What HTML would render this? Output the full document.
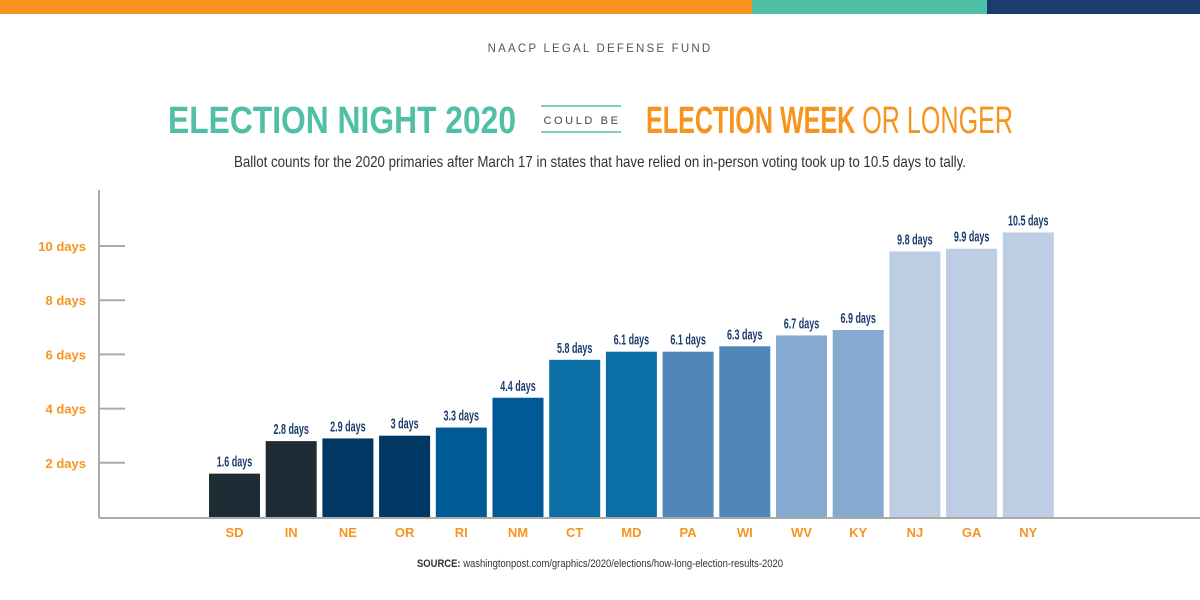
<!DOCTYPE html>
<html><head><meta charset="utf-8"><style>
html,body{margin:0;padding:0;background:#fff;width:1200px;height:600px;overflow:hidden}
svg{display:block}
text{font-family:"Liberation Sans Narrow","Liberation Sans",sans-serif}
</style></head><body>
<svg id="chart" width="1200" height="600">
<rect x="0" y="0" width="752" height="14" fill="#f7941d"/>
<rect x="752" y="0" width="235" height="14" fill="#4fbfa5"/>
<rect x="987" y="0" width="213" height="14" fill="#1b3d6e"/>
<text x="600" y="52" text-anchor="middle" font-size="11.5" letter-spacing="2.2" fill="#555">NAACP LEGAL DEFENSE FUND</text>
<text x="168" y="133" font-size="38" font-weight="bold" fill="#4fbfa5" textLength="348" lengthAdjust="spacingAndGlyphs">ELECTION NIGHT 2020</text>
<line x1="541" y1="106" x2="621" y2="106" stroke="#4fbfa5" stroke-width="1.5"/>
<line x1="541" y1="132" x2="621" y2="132" stroke="#4fbfa5" stroke-width="1.5"/>
<text x="582" y="124" text-anchor="middle" font-size="11" letter-spacing="2.6" fill="#444">COULD BE</text>
<text x="646" y="133" font-size="38" fill="#f7941d" textLength="367" lengthAdjust="spacingAndGlyphs"><tspan font-weight="bold">ELECTION WEEK</tspan> OR LONGER</text>
<text x="600" y="167" text-anchor="middle" font-size="16" fill="#333" textLength="732" lengthAdjust="spacingAndGlyphs">Ballot counts for the 2020 primaries after March 17 in states that have relied on in-person voting took up to 10.5 days to tally.</text>
<line x1="99" y1="190" x2="99" y2="518" stroke="#aaa" stroke-width="2"/>
<line x1="99" y1="518" x2="1200" y2="518" stroke="#aaa" stroke-width="2"/>
<g id="ticks"></g><g id="bars"></g>
<text x="417" y="567" font-size="11" fill="#333" textLength="366" lengthAdjust="spacingAndGlyphs"><tspan font-weight="bold">SOURCE:</tspan> washingtonpost.com/graphics/2020/elections/how-long-election-results-2020</text>
</svg>
<script>
const categories=["SD","IN","NE","OR","RI","NM","CT","MD","PA","WI","WV","KY","NJ","GA","NY"];
const values=[1.6,2.8,2.9,3,3.3,4.4,5.8,6.1,6.1,6.3,6.7,6.9,9.8,9.9,10.5];
const valueLabels=["1.6 days","2.8 days","2.9 days","3 days","3.3 days","4.4 days","5.8 days","6.1 days","6.1 days","6.3 days","6.7 days","6.9 days","9.8 days","9.9 days","10.5 days"];
const colors=["#1f2b35","#1f2b35","#003865","#003865","#005a96","#005a96","#0b6fa6","#0b6fa6","#4f86b8","#4f86b8","#85a9d0","#85a9d0","#bccde4","#bccde4","#bccde4"];
const tickValues=[2,4,6,8,10];
const tickLabels=["2 days","4 days","6 days","8 days","10 days"];
const NS="http://www.w3.org/2000/svg";
const y=v=>517-v*27.1;
const x=i=>209+i*56.7;
const bw=51;
function mk(t,a,p){const e=document.createElementNS(NS,t);for(const k in a)e.setAttribute(k,a[k]);p.appendChild(e);return e;}
function squeeze(t,f){const w=t.getComputedTextLength();t.setAttribute('textLength',(w*f).toFixed(1));t.setAttribute('lengthAdjust','spacingAndGlyphs');}
const tg=document.getElementById('ticks');
tickValues.forEach((v,i)=>{
 const l=mk('line',{x1:99,x2:125,y1:y(v),y2:y(v),stroke:'#aaa','stroke-width':2},tg);
 
 
 const t=mk('text',{x:86,y:y(v)+5,'text-anchor':'end','font-size':13,'font-weight':'bold',fill:'#f7941d'},tg);
 t.textContent=tickLabels[i];
 
 
});
const bg=document.getElementById('bars');
categories.forEach((c,i)=>{
 const r=mk('rect',{x:x(i),y:y(values[i]),width:bw,height:517-y(values[i]),fill:colors[i]},bg);
 
 
 const t=mk('text',{x:x(i)+bw/2,y:y(values[i])-7,'text-anchor':'middle','font-size':15,'font-weight':'bold',fill:'#1b3d6e'},bg);
 t.textContent=valueLabels[i];
 
 
 squeeze(t,0.6);
 const s=mk('text',{x:x(i)+bw/2,y:537,'text-anchor':'middle','font-size':13,'font-weight':'bold',fill:'#f7941d'},bg);
 s.textContent=c;
 
 
});
</script>
</body></html>
